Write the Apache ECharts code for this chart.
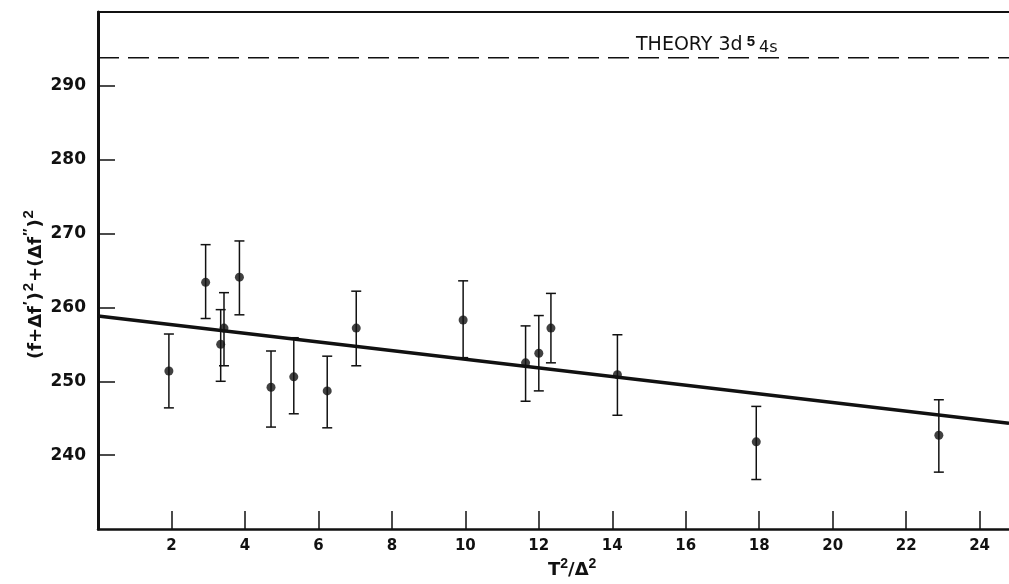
<!DOCTYPE html>
<html>
<head>
<meta charset="utf-8">
<script src="https://cdn.jsdelivr.net/npm/echarts@6/dist/echarts.min.js"></script>
<style>
  html, body { margin: 0; padding: 0; background: #fff; }
  #chart { width: 1009px; height: 584px; }
</style>
</head>
<body>
<div id="chart"></div>
<script>
const tValues = [1.93, 2.93, 3.34, 3.43, 3.85, 4.71, 5.33, 6.24, 7.03, 9.94, 11.64, 12.0, 12.33, 14.14, 17.92, 22.89]
const fValues = [251.4, 263.4, 255.0, 257.2, 264.1, 249.2, 250.6, 248.7, 257.2, 258.3, 252.5, 253.8, 257.2, 250.9, 241.8, 242.7]
const errLow = [246.4, 258.5, 250.0, 252.1, 259.0, 243.8, 245.6, 243.7, 252.1, 253.2, 247.3, 248.7, 252.5, 245.4, 236.7, 237.7]
const errHigh = [256.4, 268.5, 259.7, 262.0, 269.0, 254.1, 255.9, 253.4, 262.2, 263.6, 257.5, 258.9, 261.9, 256.3, 246.6, 247.5]
// fitted line end points
const fitX = [0, 24.8]
const fitY = [258.85, 244.3]
// theory value 3d5 4s
const theoryLevel = 293.8
const xTicks = [2, 4, 6, 8, 10, 12, 14, 16, 18, 20, 22, 24]
const yTicks = [240, 250, 260, 270, 280, 290]

const chart = echarts.init(document.getElementById('chart'))

const points = tValues.map((t, i) => [t, fValues[i]])
const bars = tValues.map((t, i) => [t, errLow[i], errHigh[i]])

const option = {
  animation: false,
  backgroundColor: '#fff',
  grid: { left: 98, right: 0, top: 12, bottom: 55 },
  xAxis: [
    {
      type: 'value',
      min: 0,
      max: 24.8,
      interval: 2,
      splitLine: { show: false },
      axisLine: { lineStyle: { color: '#111', width: 2.5 } },
      axisTick: {
        inside: true,
        length: 18,
        customValues: xTicks,
        lineStyle: { color: '#111', width: 1.5 }
      },
      axisLabel: {
        customValues: xTicks,
        margin: 10,
        color: '#111',
        fontFamily: 'DejaVu Sans',
        fontWeight: 'bold',
        fontSize: 15
      }
    },
    {
      type: 'value',
      position: 'top',
      min: 0,
      max: 24.8,
      splitLine: { show: false },
      axisLine: { show: true, onZero: false, lineStyle: { color: '#111', width: 2 } },
      axisTick: { show: false },
      axisLabel: { show: false }
    }
  ],
  yAxis: {
    type: 'value',
    min: 230,
    max: 300,
    interval: 10,
    splitLine: { show: false },
    axisLine: { show: true, lineStyle: { color: '#111', width: 3 } },
    axisTick: {
      inside: true,
      length: 17,
      customValues: yTicks,
      lineStyle: { color: '#111', width: 1.5 }
    },
    axisLabel: {
      customValues: yTicks,
      margin: 12,
      color: '#111',
      fontFamily: 'DejaVu Sans',
      fontWeight: 'bold',
      fontSize: 17
    }
  },
  series: [
    {
      name: 'fit',
      type: 'line',
      data: fitX.map((x, i) => [x, fitY[i]]),
      symbol: 'none',
      lineStyle: { color: '#111', width: 3.5 },
      z: 3
    },
    {
      name: 'theory',
      type: 'line',
      data: fitX.map(x => [x, theoryLevel]),
      symbol: 'none',
      lineStyle: { color: '#111', width: 1.5, type: [21, 9] },
      z: 2
    },
    {
      name: 'errors',
      type: 'custom',
      data: bars,
      renderItem(params, api) {
        const x = api.value(0)
        const lo = api.coord([x, api.value(1)])
        const hi = api.coord([x, api.value(2)])
        const cap = 5
        const style = { stroke: '#111', lineWidth: 1.5 }
        return {
          type: 'group',
          children: [
            { type: 'line', shape: { x1: lo[0], y1: lo[1], x2: hi[0], y2: hi[1] }, style },
            { type: 'line', shape: { x1: lo[0] - cap, y1: lo[1], x2: lo[0] + cap, y2: lo[1] }, style },
            { type: 'line', shape: { x1: hi[0] - cap, y1: hi[1], x2: hi[0] + cap, y2: hi[1] }, style }
          ]
        }
      },
      z: 4
    },
    {
      name: 'data',
      type: 'scatter',
      data: points,
      symbol: 'circle',
      symbolSize: 9,
      itemStyle: { color: '#111' },
      z: 5
    }
  ],
  graphic: [
    {
      type: 'text',
      left: 636,
      top: 34,
      style: {
        text: 'THEORY 3d{sup|5}{low|4s}',
        font: '19px "DejaVu Sans"',
        fill: '#111',
        rich: {
          sup: { fontSize: 15, fontWeight: 'bold', verticalAlign: 'top', padding: [0, 4, 8, 4] },
          low: { fontSize: 16, fontFamily: 'DejaVu Sans', padding: [4, 0, 0, 0] }
        }
      }
    },
    {
      type: 'text',
      x: 36,
      y: 284,
      rotation: Math.PI / 2,
      style: {
        text: '(f+Δf{s|\u2032}){s|2}+(Δf{s|\u2033}){s|2}',
        font: 'bold 18px "DejaVu Sans"',
        fill: '#111',
        align: 'center',
        verticalAlign: 'middle',
        rich: {
          s: { fontSize: 15, fontWeight: 'bold', padding: [0, 1, 14, 1] }
        }
      }
    },
    {
      type: 'text',
      left: 548,
      top: 557,
      style: {
        text: 'T{s|2}/Δ{s|2}',
        font: 'bold 18px "DejaVu Sans"',
        fill: '#111',
        rich: {
          s: { fontSize: 14, fontWeight: 'bold', padding: [0, 0, 12, 0] }
        }
      }
    }
  ]
}

chart.setOption(option)
</script>
</body>
</html>
